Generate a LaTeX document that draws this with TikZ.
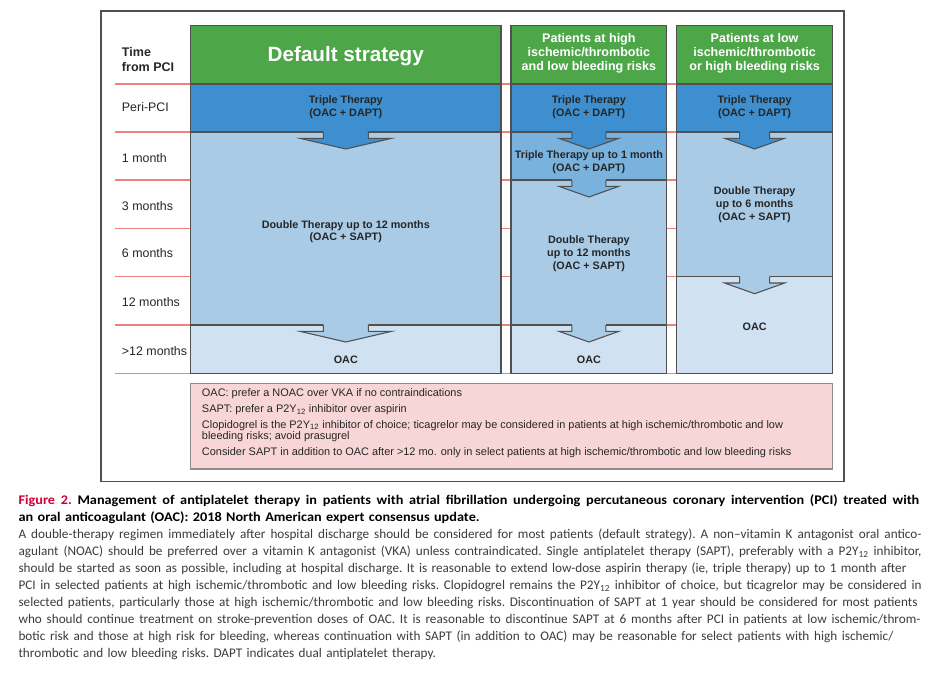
\documentclass[tikz,border=0pt]{standalone}
\usepackage{fontspec}
\setmainfont{Liberation Sans}
\newfontfamily\capfont[BoldFeatures={FakeStretch=1.08}]{Carlito}
\definecolor{hgreen}{RGB}{77,167,72}
\definecolor{dblue}{RGB}{61,143,207}
\definecolor{mblue}{RGB}{122,178,222}
\definecolor{lblue}{RGB}{169,203,230}
\definecolor{xblue}{RGB}{208,226,241}
\definecolor{npink}{RGB}{248,214,215}
\definecolor{rline}{RGB}{240,128,128}
\definecolor{bgray}{RGB}{80,80,80}
\definecolor{figred}{RGB}{204,0,51}
\definecolor{captext}{RGB}{60,60,60}
\newcommand{\blockarr}[5]{%
  \fill[#5] ({#1-#3},{#2-1.2}) -- ({#1-#3},{#2+6.3}) -- ({#1-#4},{#2+6.3}) -- (#1,{#2+17}) -- ({#1+#4},{#2+6.3}) -- ({#1+#3},{#2+6.3}) -- ({#1+#3},{#2-1.2}) -- cycle;
  \draw[boxl] ({#1-#3},#2) -- ({#1-#3},{#2+6.3}) -- ({#1-#4},{#2+6.3}) -- (#1,{#2+17}) -- ({#1+#4},{#2+6.3}) -- ({#1+#3},{#2+6.3}) -- ({#1+#3},#2);
}
\newcommand{\jline}[2]{\makebox[#1][s]{\spaceskip=\fontdimen2\font plus 1fil\relax #2}}
\begin{document}
\begin{tikzpicture}[x=0.75pt,y=-0.75pt,
  boxl/.style={draw=bgray, line width=0.8pt, line join=miter},
  redl/.style={draw=rline, line width=0.8pt},
  bighdr/.style={font=\bfseries\fontsize{15.5}{18}\selectfont, text=white, inner sep=0pt},
  hdr/.style={font=\bfseries\fontsize{9.4}{10.5}\selectfont, text=white, align=center, inner sep=0pt},
  tt/.style={font=\bfseries\fontsize{8.1}{9.6}\selectfont, align=center, text=black!85, inner sep=0pt},
  lab/.style={anchor=west, font=\fontsize{9.3}{11}\selectfont, text=black!85, inner sep=0pt},
  note/.style={anchor=base west, font=\fontsize{8.2}{9.5}\selectfont, text=black!85, inner sep=0pt},
  capnode/.style={anchor=base west, inner sep=0pt, text width=690pt, align=left,
    font=\capfont\fontsize{9.9}{12.75}\selectfont\frenchspacing, text=captext}]
\useasboundingbox (0,0) rectangle (936,674);
\fill[white] (0,0) rectangle (936,674);
% frame
\draw[draw=bgray, line width=0.8pt] (101,11) rectangle (844,481.7);
% red time lines
\foreach \yy in {84,132,180,228.3,276.7,325,373.3}
  \draw[redl] (115,\yy) -- (832.5,\yy);
% column 1
\draw[boxl, fill=hgreen] (190.7,25.7) rectangle (501,84);
\draw[boxl, fill=dblue] (190.7,84) rectangle (501,132);
\draw[boxl, fill=lblue] (190.7,132) rectangle (501,325);
\draw[boxl, fill=xblue] (190.7,325) rectangle (501,373.3);
% column 2
\draw[boxl, fill=hgreen] (511,25.7) rectangle (666.7,84);
\draw[boxl, fill=dblue] (511,84) rectangle (666.7,132);
\draw[boxl, fill=mblue] (511,132) rectangle (666.7,180);
\draw[boxl, fill=lblue] (511,180) rectangle (666.7,325);
\draw[boxl, fill=xblue] (511,325) rectangle (666.7,373.3);
% column 3
\draw[boxl, fill=hgreen] (676.7,25.7) rectangle (832.5,84);
\draw[boxl, fill=dblue] (676.7,84) rectangle (832.5,132);
\draw[boxl, fill=lblue] (676.7,132) rectangle (832.5,276.7);
\draw[boxl, fill=xblue] (676.7,276.7) rectangle (832.5,373.3);
% block arrows
\blockarr{345.8}{132}{22.5}{46}{dblue}
\blockarr{345.8}{325}{22.5}{46}{lblue}
\blockarr{588.9}{132}{17}{30}{dblue}
\blockarr{588.9}{180}{17}{30}{mblue}
\blockarr{588.9}{325}{17}{30}{lblue}
\blockarr{754.6}{132}{15}{30}{dblue}
\blockarr{754.6}{276.7}{15}{30}{lblue}
% headers
\node[bighdr] (h1) at (345.8,56.7) {Default strategy};
\node[hdr] (h2) at (588.9,53.3) {Patients at high\\ischemic/thrombotic\\and low bleeding risks};
\node[hdr] (h3) at (754.6,53.3) {Patients at low\\ischemic/thrombotic\\or high bleeding risks};
% row labels
\node[lab, font=\bfseries\fontsize{9.4}{10.7}\selectfont, align=left] (t0) at (121.7,59.5) {Time\\from PCI};
\node[lab] (t1) at (121.7,106.7) {Peri-PCI};
\node[lab] (t2) at (121.7,157.7) {1 month};
\node[lab] (t3) at (121.7,205.7) {3 months};
\node[lab] (t4) at (121.7,253.3) {6 months};
\node[lab] (t5) at (121.7,302.3) {12 months};
\node[lab] (t6) at (121.7,350.7) {>12 months};
% column texts
\node[tt] (c1tt) at (345.8,107.5) {Triple Therapy\\(OAC + DAPT)};
\node[tt] (c1dt) at (345.8,231.7) {Double Therapy up to 12 months\\(OAC + SAPT)};
\node[tt] (c1oac) at (345.8,360) {OAC};
\node[tt] (c2tt) at (588.9,107.5) {Triple Therapy\\(OAC + DAPT)};
\node[tt] (c2t1) at (588.9,162.5) {Triple Therapy up to 1 month\\(OAC + DAPT)};
\node[tt] (c2dt) at (588.9,254) {Double Therapy\\up to 12 months\\(OAC + SAPT)};
\node[tt] (c2oac) at (588.9,360) {OAC};
\node[tt] (c3tt) at (754.6,107.5) {Triple Therapy\\(OAC + DAPT)};
\node[tt] (c3dt) at (754.6,204.8) {Double Therapy\\up to 6 months\\(OAC + SAPT)};
\node[tt] (c3oac) at (754.6,326.7) {OAC};
% notes box
\draw[draw=black!45, line width=0.8pt, fill=npink] (190.7,383.3) rectangle (832.3,469);
\node[note] (n1) at (201.7,396.5) {OAC: prefer a NOAC over VKA if no contraindications};
\node[note] (n2) at (201.7,412.8) {SAPT: prefer a P2Y\textsubscript{12} inhibitor over aspirin};
\node[note] (n3) at (201.7,428.3) {Clopidogrel is the P2Y\textsubscript{12} inhibitor of choice; ticagrelor may be considered in patients at high ischemic/thrombotic and low};
\node[note] (n4) at (201.7,439.5) {bleeding risks; avoid prasugrel};
\node[note] (n5) at (201.7,455) {Consider SAPT in addition to OAC after >12 mo. only in select patients at high ischemic/thrombotic and low bleeding risks};
% caption
\node[capnode] (cap) at (18.3,504) {%
\makebox[675.5pt][s]{\bfseries\spaceskip=\fontdimen2\font plus 1fil\relax\textcolor{figred}{Figure 2.} \textcolor{black}{Management of antiplatelet therapy in patients with atrial fibrillation undergoing percutaneous coronary intervention (PCI) treated with}}\\
\mbox{\textcolor{black}{\bfseries an oral anticoagulant (OAC): 2018 North American expert consensus update.}}\\
\jline{677.25pt}{A double-therapy regimen immediately after hospital discharge should be considered for most patients (default strategy). A non–vitamin K antagonist oral antico-}\\
\jline{677.25pt}{agulant (NOAC) should be preferred over a vitamin K antagonist (VKA) unless contraindicated. Single antiplatelet therapy (SAPT), preferably with a P2Y\textsubscript{12} inhibitor,}\\
\jline{666pt}{should be started as soon as possible, including at hospital discharge. It is reasonable to extend low-dose aspirin therapy (ie, triple therapy) up to 1 month after}\\
\jline{677.25pt}{PCI in selected patients at high ischemic/thrombotic and low bleeding risks. Clopidogrel remains the P2Y\textsubscript{12} inhibitor of choice, but ticagrelor may be considered in}\\
\jline{674.25pt}{selected patients, particularly those at high ischemic/thrombotic and low bleeding risks. Discontinuation of SAPT at 1 year should be considered for most patients}\\
\jline{676.5pt}{who should continue treatment on stroke-prevention doses of OAC. It is reasonable to discontinue SAPT at 6 months after PCI in patients at low ischemic/throm-}\\
\jline{656.25pt}{botic risk and those at high risk for bleeding, whereas continuation with SAPT (in addition to OAC) may be reasonable for select patients with high ischemic/}\\
\mbox{thrombotic and low bleeding risks. DAPT indicates dual antiplatelet therapy.}};
\end{tikzpicture}
\end{document}
